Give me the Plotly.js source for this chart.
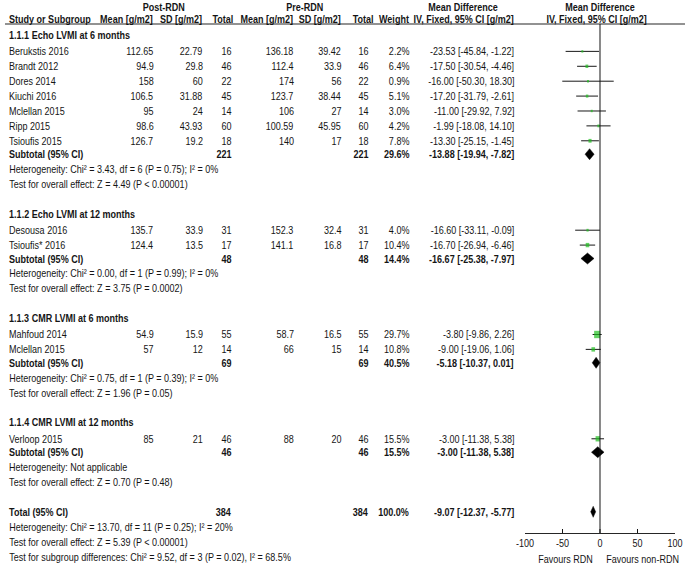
<!DOCTYPE html>
<html>
<head>
<meta charset="utf-8">
<script src="https://cdn.plot.ly/plotly-3.0.1.min.js"></script>
<style>
html,body{margin:0;padding:0;background:#fff;overflow:hidden;}
#chart{width:835px;height:573px;transform:scaleX(0.820359);transform-origin:0 0;}
</style>
</head>
<body>
<div id="chart"></div>
<script>
// ---------- data ----------
const studies = ['Berukstis 2016','Brandt 2012','Dores 2014','Kiuchi 2016','Mclellan 2015','Ripp 2015','Tsioufis 2015',
                 'Desousa 2016','Tsioufis* 2016','Mahfoud 2014','Mclellan 2015','Verloop 2015'];
const studyGroup = [0,0,0,0,0,0,0,1,1,2,2,3];
const postMean = [112.65,94.9,158,106.5,95,98.6,126.7,135.7,124.4,54.9,57,85];
const postSD   = [22.79,29.8,60,31.88,24,43.93,19.2,33.9,13.5,15.9,12,21];
const postN    = [16,46,22,45,14,60,18,31,17,55,14,46];
const preMean  = [136.18,112.4,174,123.7,106,100.59,140,152.3,141.1,58.7,66,88];
const preSD    = [39.42,33.9,56,38.44,27,45.95,17,32.4,16.8,16.5,15,20];
const preN     = [16,46,22,45,14,60,18,31,17,55,14,46];
const weight   = [2.2,6.4,0.9,5.1,3.0,4.2,7.8,4.0,10.4,29.7,10.8,15.5];
const md       = [-23.53,-17.50,-16.00,-17.20,-11.00,-1.99,-13.30,-16.60,-16.70,-3.80,-9.00,-3.00];
const ciLo     = [-45.84,-30.54,-50.30,-31.79,-29.92,-18.08,-25.15,-33.11,-26.94,-9.86,-19.06,-11.38];
const ciHi     = [-1.22,-4.46,18.30,-2.61,7.92,14.10,-1.45,-0.09,-6.46,2.26,1.06,5.38];

const groups   = ['1.1.1 Echo LVMI at 6 months','1.1.2 Echo LVMI at 12 months','1.1.3 CMR LVMI at 6 months','1.1.4 CMR LVMI at 12 months'];
const subN     = [221,48,69,46];
const subW     = [29.6,14.4,40.5,15.5];
const subMD    = [-13.88,-16.67,-5.18,-3.00];
const subLo    = [-19.94,-25.38,-10.37,-11.38];
const subHi    = [-7.82,-7.97,0.01,5.38];
const subHet   = ['Chi² = 3.43, df = 6 (P = 0.75); I² = 0%','Chi² = 0.00, df = 1 (P = 0.99); I² = 0%',
                  'Chi² = 0.75, df = 1 (P = 0.39); I² = 0%','Not applicable'];
const subZ     = ['Z = 4.49 (P < 0.00001)','Z = 3.75 (P = 0.0002)','Z = 1.96 (P = 0.05)','Z = 0.70 (P = 0.48)'];

const totN = 384, totW = 100.0, totMD = -9.07, totLo = -12.37, totHi = -5.77;
const totHet = 'Chi² = 13.70, df = 11 (P = 0.25); I² = 20%';
const totZ = 'Z = 5.39 (P < 0.00001)';
const subgroupDiff = 'Chi² = 9.52, df = 3 (P = 0.02), I² = 68.5%';
const tickVals = [-100,-50,0,50,100];

// ---------- layout helpers ----------
// The figure is drawn 835 px wide and squeezed to 685 px by CSS (condensed, Arial-Narrow-like look).
const REF_W = 685, W = 835, H = 573;
const FONT = '"Liberation Sans", Arial, sans-serif';
const FS = 11, COL = '#151515';
const rowTop = 35, rowH = 14.9;
const px = v => v / REF_W;            // paper fraction from reference pixel
const yPix = p => (p - rowTop) / rowH; // row value from reference pixel
const ann = [];
function txt(t, x, row, anchor, bold) {
  ann.push({text: bold ? '<b>' + t + '</b>' : t, x: px(x), xref: 'paper', y: row, yref: 'y',
            xanchor: anchor, yanchor: 'middle', showarrow: false,
            font: {family: FONT, size: FS, color: COL}});
}
const C = {name: 7, pm: 155, psd: 204, pn: 233, rm: 295, rsd: 343, rn: 370, w: 411, ci: 516};
const fmt2 = v => v.toFixed(2);
const ciText = (m, l, h) => fmt2(m) + ' [' + fmt2(l) + ', ' + fmt2(h) + ']';

// headers
const h1 = yPix(7), h2 = yPix(19);
txt('Post-RDN', 164, h1, 'center', true);
txt('Pre-RDN', 305, h1, 'center', true);
txt('Mean Difference', 463, h1, 'center', true);
txt('Mean Difference', 600, h1, 'center', true);
txt('Study or Subgroup', C.name, h2, 'left', true);
txt('Mean [g/m2]', C.pm, h2, 'right', true);
txt('SD [g/m2]', C.psd, h2, 'right', true);
txt('Total', 235, h2, 'right', true);
txt('Mean [g/m2]', C.rm, h2, 'right', true);
txt('SD [g/m2]', C.rsd, h2, 'right', true);
txt('Total', 375, h2, 'right', true);
txt('Weight', C.w, h2, 'right', true);
txt('IV, Fixed, 95% CI [g/m2]', C.ci, h2, 'right', true);
txt('IV, Fixed, 95% CI [g/m2]', 597, h2, 'center', true);

// rows
const sRow = [], gRow = [];
let r = 0;
groups.forEach((g, gi) => {
  txt(g, C.name, r, 'left', true);
  r++;
  studies.forEach((s, i) => {
    if (studyGroup[i] !== gi) return;
    sRow[i] = r + 0.1;
    txt(s, C.name, r + 0.1, 'left');
    txt(String(postMean[i]), C.pm, r + 0.1, 'right');
    txt(String(postSD[i]), C.psd, r + 0.1, 'right');
    txt(String(postN[i]), C.pn, r + 0.1, 'right');
    txt(String(preMean[i]), C.rm, r + 0.1, 'right');
    txt(String(preSD[i]), C.rsd, r + 0.1, 'right');
    txt(String(preN[i]), C.rn, r + 0.1, 'right');
    txt(weight[i].toFixed(1) + '%', C.w, r + 0.1, 'right');
    txt(ciText(md[i], ciLo[i], ciHi[i]), C.ci, r + 0.1, 'right');
    r++;
  });
  gRow[gi] = r;
  txt('Subtotal (95% CI)', C.name, r, 'left', true);
  txt(String(subN[gi]), C.pn, r, 'right', true);
  txt(String(subN[gi]), C.rn, r, 'right', true);
  txt(subW[gi].toFixed(1) + '%', C.w, r, 'right', true);
  txt(ciText(subMD[gi], subLo[gi], subHi[gi]), C.ci, r, 'right', true);
  r++;
  txt('Heterogeneity: ' + subHet[gi], C.name, r, 'left'); r++;
  txt('Test for overall effect: ' + subZ[gi], C.name, r, 'left'); r++;
  r++;
});
const totRow = r;
txt('Total (95% CI)', C.name, r, 'left', true);
txt(String(totN), C.pn, r, 'right', true);
txt(String(totN), C.rn, r, 'right', true);
txt(totW.toFixed(1) + '%', C.w, r, 'right', true);
txt(ciText(totMD, totLo, totHi), C.ci, r, 'right', true);
r++;
txt('Heterogeneity: ' + totHet, C.name, r, 'left'); r++;
txt('Test for overall effect: ' + totZ, C.name, r, 'left'); r++;
txt('Test for subgroup differences: ' + subgroupDiff, C.name, r, 'left');

const axisPix = 533;
txt('Favours RDN', 595, yPix(559), 'right');
txt('Favours non-RDN', 605, yPix(559), 'left');

// ---------- traces ----------
const traces = [];
traces.push({
  type: 'scatter', mode: 'markers', x: md, y: sRow,
  marker: {symbol: 'square', color: '#1fbf1f', size: weight.map(w => Math.max(2.4, 1.35 * Math.sqrt(w))), line: {width: 0}},
  error_x: {type: 'data', symmetric: false, array: ciHi.map((h, i) => h - md[i]),
            arrayminus: ciLo.map((l, i) => md[i] - l), color: '#000', thickness: 1, width: 0},
  hoverinfo: 'skip'
});
const dh = 0.37;
function diamond(m, l, h, row) {
  traces.push({type: 'scatter', mode: 'lines', x: [l, m, h, m, l], y: [row, row - dh, row, row + dh, row],
               fill: 'toself', fillcolor: '#000', line: {color: '#000', width: 0.5}, hoverinfo: 'skip'});
}
groups.forEach((g, gi) => diamond(subMD[gi], subLo[gi], subHi[gi], gRow[gi]));
diamond(totMD, totLo, totHi, totRow);

const layout = {
  width: W, height: H, margin: {l: 0, r: 0, t: 0, b: 0},
  paper_bgcolor: '#fff', plot_bgcolor: 'rgba(0,0,0,0)', showlegend: false,
  xaxis: {domain: [px(525), px(675)], range: [-100, 100], anchor: 'free', position: 1 - axisPix / H,
          showline: true, linecolor: '#111', linewidth: 1, ticks: 'inside', ticklen: 4, tickwidth: 1.2, tickcolor: '#111',
          tickvals: tickVals, ticktext: tickVals.map(String), showgrid: false, zeroline: false,
          tickfont: {family: FONT, size: FS, color: COL}, fixedrange: true},
  yaxis: {domain: [0, 1], range: [yPix(H), yPix(0)], visible: false, fixedrange: true},
  shapes: [
    {type: 'line', xref: 'paper', x0: px(5), x1: 1, yref: 'y', y0: yPix(24), y1: yPix(24), line: {color: '#111', width: 1}},
    {type: 'line', xref: 'x', x0: 0, x1: 0, yref: 'y', y0: yPix(24), y1: yPix(axisPix), line: {color: '#111', width: 1.2}}
  ],
  annotations: ann
};
Plotly.newPlot('chart', traces, layout, {staticPlot: true, displayModeBar: false});
</script>
</body>
</html>
